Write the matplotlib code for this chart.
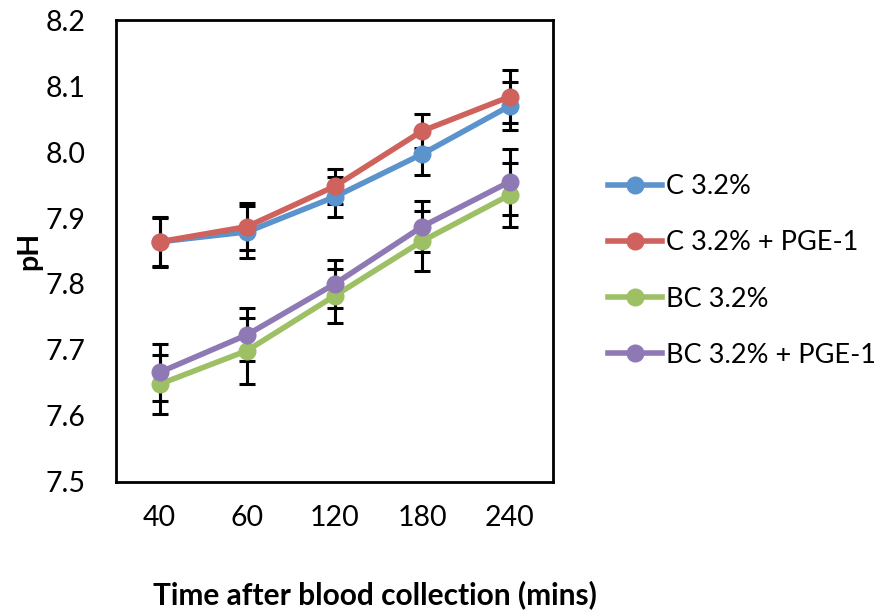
import matplotlib.pyplot as plt
import numpy as np

plt.rcParams['font.family'] = ['Lato', 'DejaVu Sans']

# pH over time after blood collection
times = ['40', '60', '120', '180', '240']
labels = ['C 3.2%', 'C 3.2% + PGE-1', 'BC 3.2%', 'BC 3.2% + PGE-1']
c_ph = [7.864, 7.879, 7.932, 7.997, 8.070]
c_pge_ph = [7.864, 7.887, 7.948, 8.032, 8.084]
bc_ph = [7.648, 7.699, 7.782, 7.865, 7.935]
bc_pge_ph = [7.666, 7.723, 7.800, 7.887, 7.955]
c_err = [0.038, 0.040, 0.030, 0.032, 0.037]
c_pge_err = [0.036, 0.036, 0.027, 0.026, 0.040]
bc_err = [0.045, 0.050, 0.041, 0.046, 0.048]
bc_pge_err = [0.043, 0.040, 0.037, 0.039, 0.050]
colors = ['#5B93CC', '#CF625C', '#9DC064', '#8F79B5']

fig = plt.figure(figsize=(8.84, 6.13), dpi=100)
ax = fig.add_axes([0.131, 0.214, 0.495, 0.753])
x = np.arange(len(times))
series = [(c_ph, c_err), (c_pge_ph, c_pge_err), (bc_ph, bc_err), (bc_pge_ph, bc_pge_err)]
for (y, e), lab, col in zip(series, labels, colors):
    ax.errorbar(x, y, yerr=e, color=col, lw=4, marker='o', ms=12,
                ecolor='black', elinewidth=2.2, capsize=5.5, capthick=2.2, label=lab)

ax.set_xlim(-0.5, 4.5)
ax.set_ylim(7.5, 8.2)
ax.set_xticks(x)
ax.set_xticklabels(times)
ax.set_yticks(np.arange(7.5, 8.21, 0.1))
ax.set_yticklabels(['%.1f' % v for v in np.arange(7.5, 8.21, 0.1)])
ax.tick_params(length=0, labelsize=20.5)
ax.tick_params(axis='x', pad=17)
ax.tick_params(axis='y', pad=22)
for s in ax.spines.values():
    s.set_linewidth(2)
ax.set_xlabel('Time after blood collection (mins)', fontsize=21.5, fontweight='bold')
ax.xaxis.set_label_coords(0.593, -0.212)
ax.set_ylabel('pH', fontsize=20.5, fontweight='bold', labelpad=2)

handles, labs = ax.get_legend_handles_labels()
handles = [h[0] for h in handles]
fig.legend(handles, labs, loc='center left', bbox_to_anchor=(0.688, 0.558), frameon=False,
           fontsize=19.5, labelspacing=1.15, handlelength=2.0, handletextpad=0.15,
           borderpad=0, borderaxespad=0)
fig.savefig('out.png', dpi=100)
